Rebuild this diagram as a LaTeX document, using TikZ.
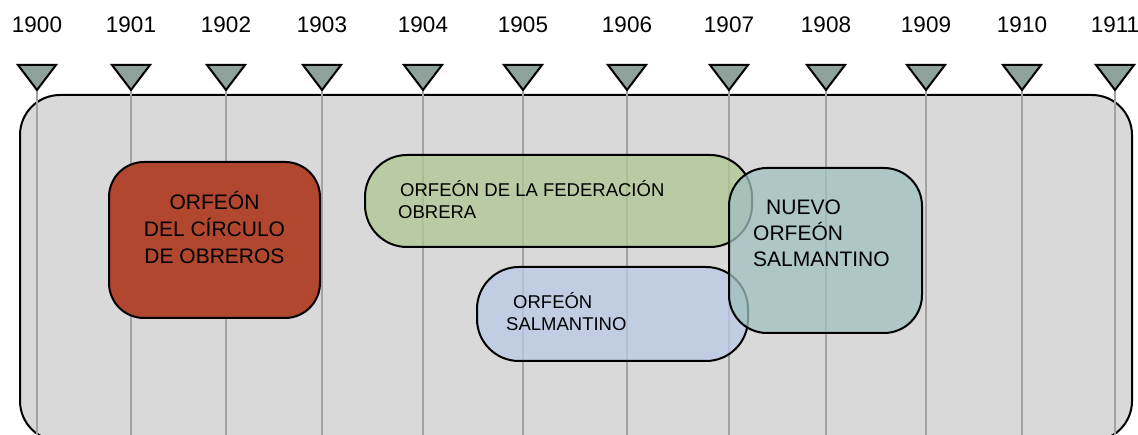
\documentclass[tikz,border=0pt]{standalone}
\usepackage{fontspec}
\setmainfont{Liberation Sans}
\usepackage{tikz}
\usetikzlibrary{positioning}
\definecolor{LineBg}{HTML}{D9D9D9}
\definecolor{LineGrid}{HTML}{A3A3A3}
\definecolor{TickGrey}{HTML}{8FA19B}
\definecolor{BoxRed}{HTML}{B2472F}
\definecolor{BoxGreen}{HTML}{ADC790}
\definecolor{BoxBlue}{HTML}{B8C9E7}
\definecolor{BoxTeal}{HTML}{A0C0C0}

\begin{document}
\begin{tikzpicture}[x=1pt, y=-1pt,
    every node/.style={inner sep=0pt},
    yearlabel/.style={font=\fontsize{22.5}{26}\selectfont},
    yearline/.style={LineGrid, line width=2pt},
    yeartick/.style={draw=black, fill=TickGrey, line width=2pt, line join=miter},
    period/.style={draw=black, line width=2pt, text opacity=1},
    boxtext/.style={font=\fontsize{21}{27}\selectfont},
    smalltext/.style={font=\fontsize{18.5}{22}\selectfont}]
  \useasboundingbox (0,0) rectangle (1138,435);
  \draw[black, line width=2pt, fill=LineBg, rounded corners=40pt]
    (20,95) rectangle (1132,441);
  % years along the top
  \foreach \yr/\px in {1900/37,1901/131,1902/226,1903/322,1904/423,1905/523,
                       1906/627,1907/729,1908/826,1909/926,1910/1022,1911/1115}{
    \node[yearlabel] (y\yr) at (\px,25) {\yr};
    \coordinate (t\yr) at (\px,90);
    \coordinate (b\yr) at (\px,435);
    \draw[yearline] (t\yr) -- (b\yr);
    \draw[yeartick] (t\yr) -- ++(-19,-25) -- ++(38,0) -- cycle;
  }
  % periods
  \node[period, fill=BoxRed, rounded corners=35pt,
        minimum width=211pt, minimum height=156pt] (circulo) at (214.5,240) {};
  \node[boxtext, align=center] (circulotxt) at (214.5,227)
    {ORFEÓN\\DEL CÍRCULO\\DE OBREROS};
  \node[period, fill=BoxGreen, fill opacity=0.75, rounded corners=42pt,
        minimum width=387pt, minimum height=92pt] (federacion) at (558.5,201) {};
  \node[smalltext, align=left, anchor=west] (federaciontxt) at (398,200)
    {\hspace{2pt}ORFEÓN DE LA FEDERACIÓN\\OBRERA};
  \node[period, fill=BoxBlue, fill opacity=0.75, rounded corners=42pt,
        minimum width=271pt, minimum height=94pt] (salmantino) at (612.5,314) {};
  \node[smalltext, align=left, anchor=west] (salmantinotxt) at (506,311.5)
    {\hspace{7pt}ORFEÓN\\SALMANTINO};
  \node[period, fill=BoxTeal, fill opacity=0.75, rounded corners=38pt,
        minimum width=193pt, minimum height=165pt] (nuevo) at (825.5,250.5) {};
  \node[boxtext, font=\fontsize{21}{26}\selectfont, align=left, anchor=west]
    (nuevotxt) at (753,233) {\hspace{13pt}NUEVO\\ORFEÓN\\SALMANTINO};
\end{tikzpicture}
\end{document}
